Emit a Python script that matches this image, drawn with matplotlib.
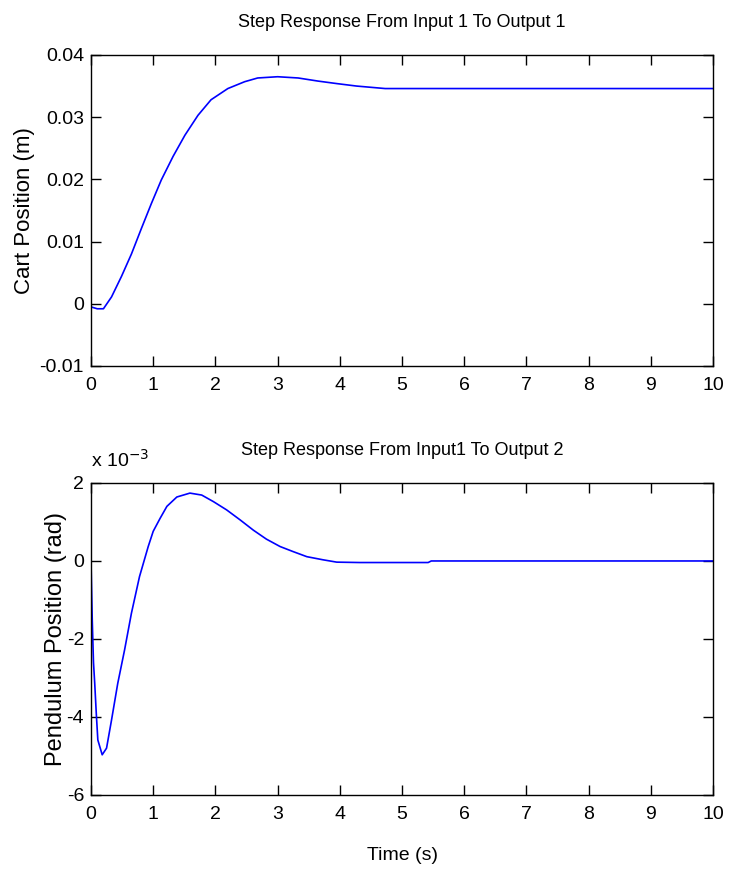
import matplotlib
matplotlib.use("Agg")
import matplotlib.pyplot as plt

# cart position response (m)
cart_t = [0.0, 0.1, 0.2, 0.33, 0.49, 0.65, 0.81, 0.97, 1.13, 1.32, 1.51, 1.72,
          1.93, 2.20, 2.47, 2.68, 3.0, 3.33, 3.65, 3.95, 4.27, 4.73, 5.5, 7.0, 10.0]
cart_y = [-0.0005, -0.0008, -0.0008, 0.0011, 0.0044, 0.0080, 0.0121, 0.0161,
          0.0199, 0.0237, 0.0271, 0.0303, 0.0328, 0.0346, 0.0357, 0.0363, 0.0365,
          0.0363, 0.0358, 0.0354, 0.0350, 0.0346, 0.0346, 0.0346, 0.0346]

# pendulum position response (x 1e-3 rad)
pend_t = [0.0, 0.02, 0.04, 0.06, 0.085, 0.11, 0.18, 0.25, 0.33, 0.43, 0.54, 0.65,
          0.78, 0.92, 1.0, 1.11, 1.22, 1.38, 1.59, 1.78, 1.97, 2.18, 2.40, 2.61,
          2.82, 3.04, 3.25, 3.47, 3.73, 3.95, 4.32, 5.0, 5.42, 5.47, 7.0, 10.0]
pend_y = [0.0, -1.5, -2.6, -3.14, -3.91, -4.59, -4.97, -4.80, -4.08, -3.14, -2.28,
          -1.34, -0.40, 0.37, 0.76, 1.09, 1.40, 1.64, 1.74, 1.69, 1.52, 1.31, 1.05,
          0.79, 0.56, 0.37, 0.24, 0.11, 0.03, -0.03, -0.04, -0.04, -0.04, 0.0, 0.0,
          0.0]

x_ticks = list(range(0, 11))
cart_ticks = [-0.01, 0, 0.01, 0.02, 0.03, 0.04]
cart_tick_labels = ["-0.01", "0", "0.01", "0.02", "0.03", "0.04"]
pend_ticks = [-6, -4, -2, 0, 2]

plt.rcParams["font.family"] = ["Liberation Sans", "DejaVu Sans"]
plt.rcParams["axes.unicode_minus"] = False


def style_axes(ax):
    ax.tick_params(direction="in", top=True, right=True, length=7, width=1,
                   labelsize=14)
    ax.tick_params(axis="x", pad=8)
    ax.tick_params(axis="y", pad=5)
    for spine in ax.spines.values():
        spine.set_linewidth(1)
    ax.set_xlim(0, 10)
    ax.set_xticks(x_ticks)


fig = plt.figure(figsize=(7.35, 8.71), dpi=100)

ax1 = fig.add_axes([0.1238, 0.5798, 0.8463, 0.3571])
ax1.plot(cart_t, cart_y, color="#0000ff", linewidth=1.2)
style_axes(ax1)
ax1.set_ylim(-0.01, 0.04)
ax1.set_yticks(cart_ticks)
ax1.set_yticklabels(cart_tick_labels)
ax1.set_title("Step Response From Input 1 To Output 1", fontsize=13, pad=20)
ax1.set_ylabel("Cart Position (m)", fontsize=16, labelpad=3)

ax2 = fig.add_axes([0.1238, 0.0873, 0.8463, 0.3582])
ax2.plot(pend_t, pend_y, color="#0000ff", linewidth=1.2)
style_axes(ax2)
ax2.set_ylim(-6, 2)
ax2.set_yticks(pend_ticks)
ax2.set_title("Step Response From Input1 To Output 2", fontsize=13, pad=20)
ax2.set_ylabel("Pendulum Position (rad)", fontsize=17, labelpad=0)
ax2.set_xlabel("Time (s)", fontsize=14, labelpad=17)
ax2.text(0.0, 1.04, "x 10$^{-3}$", transform=ax2.transAxes, fontsize=14,
         ha="left", va="bottom")

fig.savefig("out.png", dpi=100)
